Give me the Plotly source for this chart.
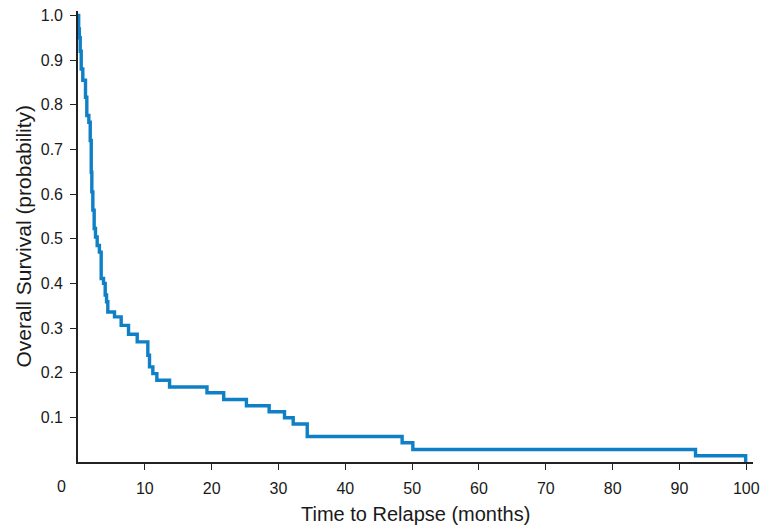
import plotly.graph_objects as go

# Kaplan-Meier step points (months, survival probability)
time_months = [0, 0.1, 0.2, 0.33, 0.48, 0.72, 1.12, 1.32, 1.62, 1.83, 1.98, 2.07, 2.22,
               2.42, 2.62, 2.87, 3.2, 3.47, 3.82, 4.07, 4.27, 4.46, 5.46, 6.46, 7.56,
               8.86, 10.45, 10.7, 11.2, 11.8, 13.7, 19.3, 21.8, 25.2, 28.6, 30.9, 32.2,
               34.3, 48.5, 50.1, 92.4, 99.9]
survival = [1.0, 0.97, 0.95, 0.92, 0.88, 0.855, 0.817, 0.776, 0.761, 0.72, 0.649, 0.605,
            0.564, 0.523, 0.504, 0.485, 0.47, 0.411, 0.40, 0.374, 0.359, 0.336, 0.325,
            0.306, 0.286, 0.269, 0.239, 0.213, 0.198, 0.183, 0.168, 0.155, 0.14, 0.126,
            0.1125, 0.099, 0.085, 0.057, 0.043, 0.028, 0.014, 0.0]

x_ticks = [10, 20, 30, 40, 50, 60, 70, 80, 90, 100]
y_ticks = [0.1, 0.2, 0.3, 0.4, 0.5, 0.6, 0.7, 0.8, 0.9, 1.0]
y_tick_labels = ["0.1", "0.2", "0.3", "0.4", "0.5", "0.6", "0.7", "0.8", "0.9", "1.0"]

fig = go.Figure()
fig.add_trace(go.Scatter(
    x=time_months, y=survival, mode="lines", line_shape="hv",
    line=dict(color="#0f7fc6", width=3.4), showlegend=False, hoverinfo="skip",
))

axis_font = dict(family="Liberation Sans, Arial, sans-serif", size=16, color="#1a1a1a")
title_font_x = dict(family="Liberation Sans, Arial, sans-serif", size=20, color="#1a1a1a")
title_font_y = dict(family="Liberation Sans, Arial, sans-serif", size=21, color="#1a1a1a")

fig.update_layout(
    width=761, height=528,
    margin=dict(l=78, r=8, t=11, b=66),
    paper_bgcolor="white", plot_bgcolor="white",
    xaxis=dict(
        range=[0, 101], tickvals=x_ticks, ticktext=[str(v) for v in x_ticks],
        ticks="outside", ticklen=6, tickwidth=1.2, tickcolor="#222",
        showline=True, linecolor="#222", linewidth=1.6, showgrid=False, zeroline=False,
        tickfont=axis_font, ticklabelstandoff=5, automargin=False,
    ),
    yaxis=dict(
        range=[0, 1.01], tickvals=y_ticks, ticktext=y_tick_labels,
        ticks="outside", ticklen=6, tickwidth=1.2, tickcolor="#222",
        showline=True, linecolor="#222", linewidth=1.6, showgrid=False, zeroline=False,
        tickfont=axis_font, ticklabelstandoff=4, automargin=False,
    ),
)

# Axis titles placed as annotations
fig.add_annotation(x=0.5, y=0, xref="paper", yref="paper", text="Time to Relapse (months)",
                   showarrow=False, xanchor="center", yanchor="middle", yshift=-52,
                   font=title_font_x)
fig.add_annotation(x=0, y=0.5, xref="paper", yref="paper", text="Overall Survival (probability)",
                   showarrow=False, textangle=-90, xanchor="center", yanchor="middle", xshift=-55,
                   font=title_font_y)

# Origin label "0" sits left of the axis corner
fig.add_annotation(x=0, y=0, xref="paper", yref="paper", text="0", showarrow=False,
                   xanchor="center", yanchor="middle", xshift=-17, yshift=-24,
                   font=axis_font)

fig.write_html("out.html", config={"displayModeBar": False},
               post_script="document.body.style.margin='0';document.body.style.overflow='hidden';")
